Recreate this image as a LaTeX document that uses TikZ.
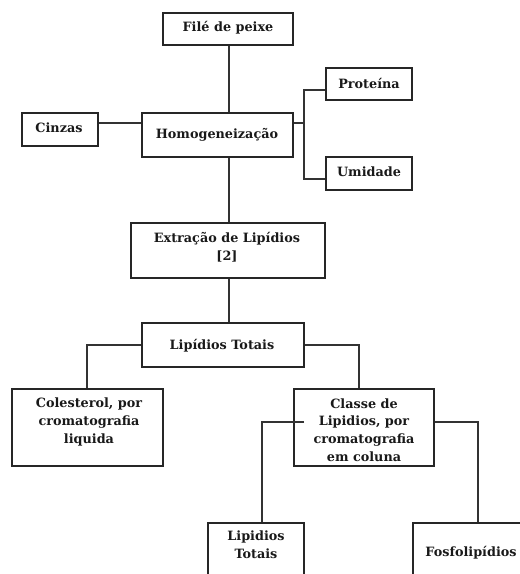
\documentclass[tikz,border=0pt]{standalone}
\usepackage{fontspec}
\setmainfont{DejaVu Serif}
\usetikzlibrary{fit}
\begin{document}
\begin{tikzpicture}[x=0.75pt,y=-0.75pt,
  box/.style={draw=black!85, line width=1pt, inner sep=0pt},
  lbl/.style={font=\fontsize{9.6}{13.2}\selectfont\bfseries, align=center, inner sep=0pt, text=black!90},
  con/.style={draw=black!80, line width=1pt}]
\useasboundingbox (0,0) rectangle (520,574);
\clip (0,0) rectangle (520,574);
\fill[white] (0,0) rectangle (520,574);
% boxes
\node[box, fit={(163,13)(293,45)}] (fil) {};
\node[box, fit={(142,113)(293,157)}] (hom) {};
\node[box, fit={(22,113)(98,146)}] (cin) {};
\node[box, fit={(326,68)(412,100)}] (pro) {};
\node[box, fit={(326,157)(412,190)}] (umi) {};
\node[box, fit={(131,223)(325,278)}] (ext) {};
\node[box, fit={(142,323)(304,367)}] (lip) {};
\node[box, fit={(12,389)(163,466)}] (col) {};
\node[box, fit={(294,389)(434,466)}] (cla) {};
\node[box, fit={(208,523)(304,620)}] (lt2) {};
\node[box, fit={(413,523)(580,620)}] (fos) {};
% labels
\node[lbl] (filT) at (228,28) {Filé de peixe};
\node[lbl] (homT) at (217,135) {Homogeneização};
\node[lbl] (cinT) at (59,128) {Cinzas};
\node[lbl] (proT) at (369,83) {Proteína};
\node[lbl] (umiT) at (369,172) {Umidade};
\node[lbl] (extT) at (227,247) {Extração de Lipídios\\\relax[2]};
\node[lbl] (lipT) at (222,346) {Lipídios Totais};
\node[lbl] (colT) at (89,422) {Colesterol, por\\cromatografia\\liquida};
\node[lbl] (claT) at (364,430) {Classe de\\Lipidios, por\\cromatografia\\em coluna};
\node[lbl] (lt2T) at (256,545) {Lipidios\\Totais};
\node[lbl] (fosT) at (471,553) {Fosfolipídios};
% junction coordinates
\coordinate (xv) at (229,0);
\coordinate (jc) at (120,123);
\coordinate (jh) at (304,123);
\coordinate (jp) at (304,90);
\coordinate (ju) at (304,179);
\coordinate (jl) at (87,345);
\coordinate (jr) at (359,345);
\coordinate (jcl) at (262,422);
\coordinate (jcl2) at (304,422);
\coordinate (jcr) at (478,422);
% connectors
\draw[con] (fil.south -| xv) -- (hom.north -| xv);
\draw[con] (hom.south -| xv) -- (ext.north -| xv);
\draw[con] (ext.south -| xv) -- (lip.north -| xv);
\draw[con] (cin.east |- jc) -- (hom.west |- jc);
\draw[con] (hom.east |- jh) -- (jh);
\draw[con] (pro.west |- jp) -- (jp) -- (ju) -- (umi.west |- ju);
\draw[con] (lip.west |- jl) -- (jl) -- (col.north -| jl);
\draw[con] (lip.east |- jr) -- (jr) -- (cla.north -| jr);
\draw[con] (jcl2) -- (jcl) -- (lt2.north -| jcl);
\draw[con] (cla.east |- jcr) -- (jcr) -- (fos.north -| jcr);
\end{tikzpicture}
\end{document}
